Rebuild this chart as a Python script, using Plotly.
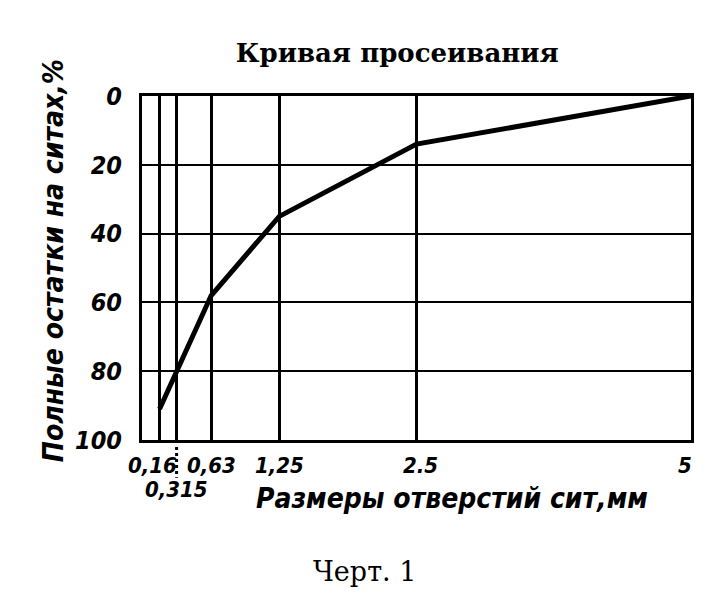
import plotly.graph_objects as go

# sieve opening sizes (mm) and total residues on the sieves (%)
sieve_sizes = [0.16, 0.315, 0.63, 1.25, 2.5, 5]
residues = [91, 80, 58, 35, 14, 0]

size_labels = ["0,16", "0,315", "0,63", "1,25", "2.5", "5"]
residue_ticks = [0, 20, 40, 60, 80, 100]

hand = "DejaVu Sans Condensed, DejaVu Sans, sans-serif"
serif = "DejaVu Serif, Liberation Serif, serif"

fig = go.Figure()

fig.add_trace(go.Scatter(
    x=sieve_sizes, y=residues, mode="lines",
    line=dict(color="black", width=5),
    showlegend=False, hoverinfo="skip",
))

fig.update_layout(
    width=725, height=597,
    margin=dict(l=134, r=42, t=88, b=165),
    paper_bgcolor="white", plot_bgcolor="white",
    title=dict(text="Кривая просеивания", x=0.537, xanchor="center", y=0.925, yanchor="middle",
               font=dict(family=serif, size=26, color="black", weight="bold")),
)

fig.update_xaxes(
    range=[0, 5], tickvals=sieve_sizes, showticklabels=False, ticks="",
    showgrid=True, gridcolor="black", gridwidth=2.5, zeroline=False,
    showline=True, linecolor="black", linewidth=3, mirror=True,
)
fig.update_yaxes(
    range=[100, 0], tickvals=residue_ticks, ticks="", ticklabelstandoff=12,
    tickfont=dict(family=hand, size=25, color="black", style="italic", weight="bold"),
    showgrid=True, gridcolor="black", gridwidth=2, zeroline=False,
    showline=True, linecolor="black", linewidth=3, mirror=True,
)

# x tick labels: 0,315 is set on a second row
for i, (xv, lab) in enumerate(zip(sieve_sizes, size_labels)):
    second_row = lab == "0,315"
    fig.add_annotation(
        x=xv, y=0, xref="x", yref="paper", text=lab, showarrow=False,
        yanchor="top", yshift=-35 if second_row else -11,
        xshift=-7 if i == 0 else (4 if i == 4 else (-6 if i == 5 else 0)),
        font=dict(family=hand, size=22, color="black", style="italic", weight="bold"),
    )

# dotted leader to the 0,315 label
fig.add_shape(type="line", x0=sieve_sizes[1], x1=sieve_sizes[1], xref="x",
              y0=-0.02, y1=-0.11, yref="paper",
              line=dict(color="black", width=3, dash="dot"))

fig.add_annotation(
    x=0.565, y=-0.17, xref="paper", yref="paper", text="Размеры отверстий сит,мм",
    showarrow=False, xanchor="center", yanchor="middle",
    font=dict(family=hand, size=28, color="black", style="italic", weight="bold"),
)
fig.add_annotation(
    x=-0.162, y=0.52, xref="paper", yref="paper", text="Полные остатки на ситах,%",
    showarrow=False, textangle=-90, xanchor="center", yanchor="middle",
    font=dict(family=hand, size=28, color="black", style="italic", weight="bold"),
)
fig.add_annotation(
    x=0.405, y=-0.382, xref="paper", yref="paper", text="Черт. 1",
    showarrow=False, xanchor="center", yanchor="middle",
    font=dict(family=serif, size=27, color="black"),
)

fig.write_html("out.html")
